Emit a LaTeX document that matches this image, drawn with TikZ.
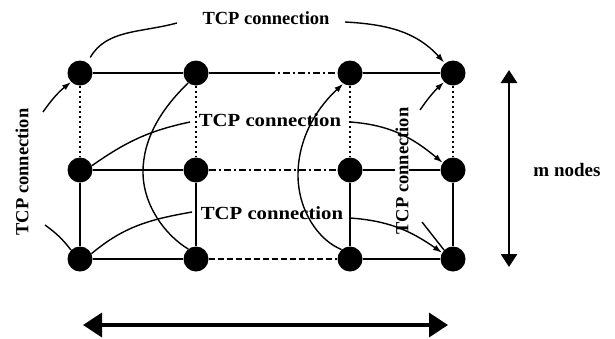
\documentclass[tikz,border=0pt]{standalone}
\usepackage{fontspec}
\setmainfont{Liberation Serif}
\usetikzlibrary{arrows.meta}
\begin{document}
\begin{tikzpicture}[x=1pt,y=-1pt,
  dot/.style={circle,fill=black,minimum size=25pt,inner sep=0pt},
  gridline/.style={line width=2pt},
  dotline/.style={line width=2pt,dash pattern=on 2.5pt off 2.5pt},
  dashdotline/.style={line width=1.8pt,dash pattern=on 7pt off 3pt on 2pt off 3pt},
  dashline/.style={line width=1.8pt,dash pattern=on 6pt off 3pt},
  conn/.style={line width=1.4pt},
  arr/.style={conn,-{Latex[length=9pt,width=6pt]}},
  lbl/.style={font=\fontsize{18.5}{20}\selectfont\bfseries,inner sep=1pt},
  bigarrow/.style={line width=3.5pt,{Triangle[length=19pt,width=24pt]}-{Triangle[length=19pt,width=24pt]}},
  vbigarrow/.style={line width=2.8pt,{Triangle[length=13pt,width=16pt]}-{Triangle[length=13pt,width=16pt]}}
]
\useasboundingbox (0,0) rectangle (615,338);
% nodes
\node[dot] (a1) at (80,73) {};
\node[dot] (a2) at (196,73) {};
\node[dot] (a3) at (350,73) {};
\node[dot] (a4) at (453,73) {};
\node[dot] (b1) at (80,170) {};
\node[dot] (b2) at (196,170) {};
\node[dot] (b3) at (350,170) {};
\node[dot] (b4) at (453,170) {};
\node[dot] (c1) at (80,259) {};
\node[dot] (c2) at (196,259) {};
\node[dot] (c3) at (350,259) {};
\node[dot] (c4) at (453,259) {};
\coordinate (t1) at (268,73);
% grid rows
\draw[gridline] (a1) -- (a2) -- (t1);
\draw[dashdotline] (t1) -- (a3);
\draw[gridline] (a3) -- (a4);
\draw[gridline] (b1) -- (b2);
\draw[dashdotline] (b2) -- (b3);
\draw[gridline] (b3) -- (b4);
\draw[gridline] (c1) -- (c2);
\draw[dashline] (c2) -- (c3);
\draw[gridline] (c3) -- (c4);
% verticals
\foreach \i in {1,2,3,4}{
  \draw[dotline] (a\i) -- (b\i);
  \draw[gridline] (b\i) -- (c\i);
}
% labels
\node[lbl] (ltop) at (266,18) {TCP connection};
\node[lbl,xscale=1.12] (lmid) at (270,120) {TCP connection};
\node[lbl,xscale=1.12] (lbot) at (272,213) {TCP connection};
\node[lbl,rotate=90] (lleft) at (22,172) {TCP connection};
\node[lbl,rotate=90,fill=white,inner sep=0.5pt] (lright) at (402,171) {TCP connection};
\node[font=\fontsize{19}{21}\selectfont\bfseries] (mn) at (567,170) {m nodes};
% label-side ends
\coordinate (q1) at (177,23);
\coordinate (q2) at (345,22);
\coordinate (q3) at (43,112);
\coordinate (q4) at (45,225);
\coordinate (q5) at (420,110);
\coordinate (q6) at (422,222);
\coordinate (q7) at (190,122);
\coordinate (q8) at (350,122);
\coordinate (q9) at (192,212);
\coordinate (q10) at (350,218);
% top connection
\draw[conn,shorten <=6pt] (a1.55) to[out=60,in=195] (q1);
\draw[arr,shorten >=1pt] (q2) to[out=-3,in=132] (a4.130);
% left connection
\draw[arr] (q3) to[bend left=8] (a1.225);
\draw[conn] (c1.135) to[bend right=8] (q4);
% right connection
\draw[arr] (q5) to[bend left=6] (a4.225);
\draw[conn] (c4.135) -- (q6);
% middle connection
\draw[conn] (b1.20) to[out=35,in=192] (q7);
\draw[arr] (q8) to[out=-4,in=140] (b4.145);
% bottom connection
\draw[conn] (c1.25) to[out=40,in=190] (q9);
\draw[arr] (q10) to[out=-4,in=145] (c4.150);
% big arcs
\draw[conn] (a2.232) .. controls (160,110) and (143,140) .. (143,172)
  .. controls (143,205) and (165,235) .. (c2.128);
\draw[arr] (c3.132) .. controls (318,240) and (298,210) .. (298,175)
  .. controls (298,135) and (320,105) .. (a3.238);
% dimension arrows
\coordinate (h1) at (83,325);
\coordinate (h2) at (448,325);
\coordinate (v1) at (509,70);
\coordinate (v2) at (509,267);
\draw[bigarrow] (h1) -- (h2);
\draw[vbigarrow] (v1) -- (v2);
\end{tikzpicture}
\end{document}
